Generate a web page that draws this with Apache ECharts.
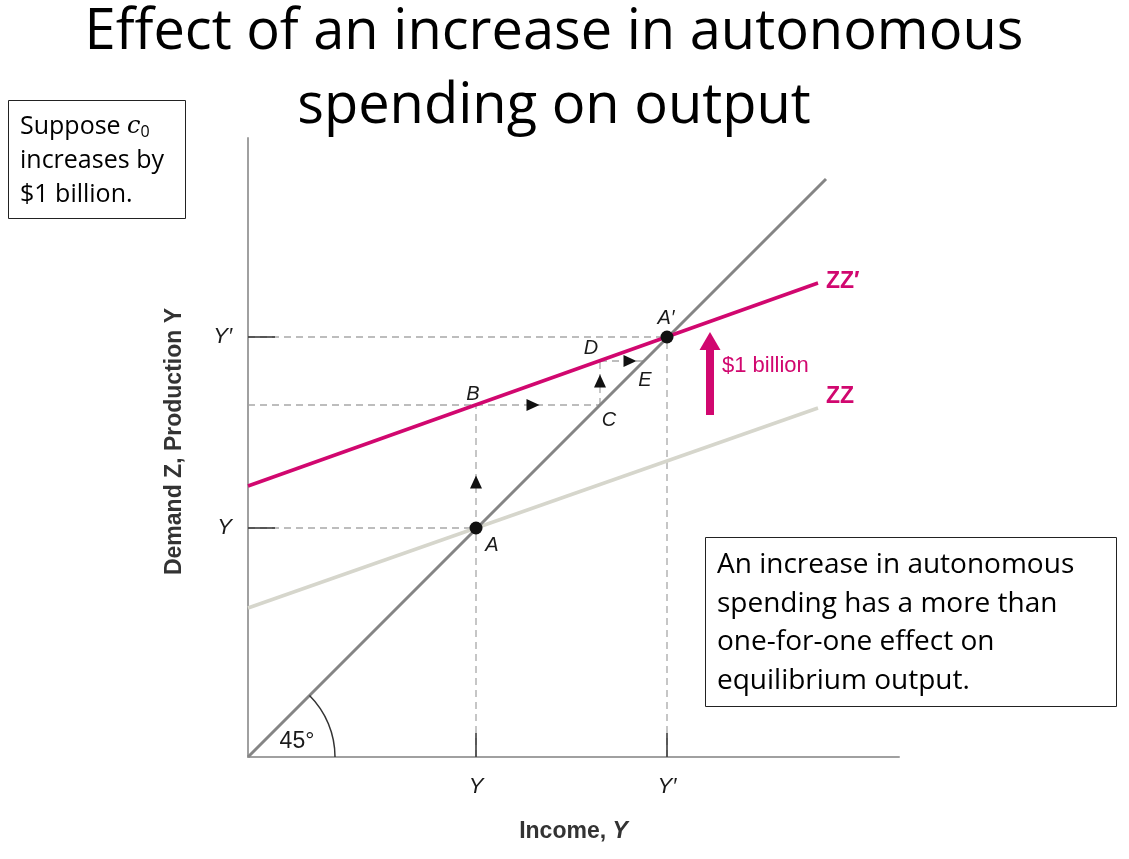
<!DOCTYPE html>
<html><head><meta charset="utf-8">
<script src="https://cdn.jsdelivr.net/npm/echarts@6/dist/echarts.min.js"></script>
<style>html,body{margin:0;padding:0;background:#fff}#c{width:1129px;height:859px}</style>
</head><body><div id="c"></div><script>
// ---- data (income / demand units) ----
const incomeTicks = [22.8, 41.9];
const demandTicks = [22.9, 42.0];
const tickLabels = ['Y', 'Y\u2032'];
const line45 = [[0, 0], [57.8, 57.8]];
const zz = [[0, 14.9], [57.0, 34.9]];
const zzPrime = [[0, 27.1], [57.0, 47.4]];
const equilibria = [[22.8, 22.9], [41.9, 42.0]];
const guides = [
  [[0, 22.9], [22.8, 22.9]],
  [[0, 42.0], [41.9, 42.0]],
  [[22.8, 0], [22.8, 35.2]],
  [[41.9, 0], [41.9, 42.0]],
  [[0, 35.2], [35.2, 35.2]],
  [[35.2, 35.2], [35.2, 39.6]],
  [[35.2, 39.6], [39.6, 39.6]]
];
const upArrows = [[22.8, 27.5], [35.2, 37.6]];
const rightArrows = [[28.5, 35.2], [38.2, 39.6]];
const shiftShaft = [[46.2, 34.2], [46.2, 40.9]];
const shiftHead = [[46.2, 41.6]];
const pointLabels = [
  {value: [24.4, 21.2], name: 'A'},
  {value: [41.8, 43.9], name: 'A\u2032'},
  {value: [22.5, 36.3], name: 'B'},
  {value: [36.1, 33.7], name: 'C'},
  {value: [34.3, 40.9], name: 'D'},
  {value: [39.7, 37.7], name: 'E'}
];

const MAG = '#d1076f';
const chart = echarts.init(document.getElementById('c'), null, {renderer: 'canvas'});

const series = [];
guides.forEach(g => series.push({
  type: 'line', data: g, symbol: 'none', silent: true, z: -1,
  lineStyle: {color: '#a8a8a8', width: 1.3, type: [7, 5]}
}));
series.push({type: 'line', data: zz, symbol: 'none', silent: true, z: 3,
  lineStyle: {color: '#d6d6cc', width: 3.5}});
series.push({type: 'line', data: line45, symbol: 'none', silent: true, z: 4,
  lineStyle: {color: '#858585', width: 3}});
series.push({type: 'line', data: zzPrime, symbol: 'none', silent: true, z: 5,
  lineStyle: {color: MAG, width: 3.5}});
series.push({type: 'line', data: shiftShaft, symbol: 'none', silent: true, z: 5,
  lineStyle: {color: MAG, width: 8, cap: 'butt'}});
series.push({type: 'scatter', data: shiftHead, symbol: 'triangle', symbolSize: [21, 18], silent: true, z: 5,
  itemStyle: {color: MAG, opacity: 1}});
series.push({type: 'scatter', data: equilibria, symbol: 'circle', symbolSize: 13, silent: true, z: 6,
  itemStyle: {color: '#111', opacity: 1}});
series.push({type: 'scatter', data: upArrows, symbol: 'triangle', symbolSize: [12, 13], silent: true, z: 6,
  itemStyle: {color: '#111', opacity: 1}});
series.push({type: 'scatter', data: rightArrows, symbol: 'triangle', symbolRotate: -90, symbolSize: [12, 13], silent: true, z: 6,
  itemStyle: {color: '#111', opacity: 1}});
series.push({type: 'scatter', data: pointLabels, symbolSize: 0, silent: true, z: 7,
  itemStyle: {opacity: 1},
  label: {show: true, position: 'inside', formatter: '{b}', color: '#1a1a1a',
    fontFamily: 'Liberation Sans', fontStyle: 'italic', fontSize: 20}});
series.push({type: 'scatter', data: [{value: [57.8, 47.5], name: 'ZZ\u2032'}, {value: [57.8, 36.0], name: 'ZZ'}],
  symbolSize: 0, silent: true, z: 7, itemStyle: {opacity: 1},
  label: {show: true, position: 'right', distance: 0, formatter: '{b}', color: MAG,
    fontFamily: 'Liberation Sans', fontWeight: 'bold', fontSize: 23}});
series.push({type: 'scatter', data: [{value: [47.4, 39.1], name: '$1 billion'}],
  symbolSize: 0, silent: true, z: 7, itemStyle: {opacity: 1},
  label: {show: true, position: 'right', distance: 0, formatter: '{b}', color: MAG,
    fontFamily: 'Liberation Sans', fontSize: 22}});
series.push({type: 'scatter', data: [{value: [4.9, 1.5], name: '45\u00b0'}],
  symbolSize: 0, silent: true, z: 7, itemStyle: {opacity: 1},
  label: {show: true, position: 'inside', formatter: '{b}', color: '#1a1a1a',
    fontFamily: 'Liberation Sans', fontSize: 23}});

function tickName(v, ticks) {
  let best = 0;
  ticks.forEach((t, i) => { if (Math.abs(t - v) < Math.abs(ticks[best] - v)) best = i; });
  return tickLabels[best];
}

const option = {
  animation: false,
  backgroundColor: '#fff',
  grid: {left: 248, right: 230, top: 138, bottom: 102, containLabel: false},
  xAxis: {
    type: 'value', min: 0, max: 65.1,
    axisLine: {show: true, lineStyle: {color: '#a0a0a0', width: 2}},
    axisTick: {show: true, inside: true, length: 24, customValues: incomeTicks,
      lineStyle: {color: '#333', width: 1.5}},
    axisLabel: {show: true, customValues: incomeTicks, margin: 19,
      formatter: v => tickName(v, incomeTicks),
      fontFamily: 'Liberation Sans', fontStyle: 'italic', fontSize: 22, color: '#1a1a1a'},
    splitLine: {show: false},
    name: 'Income, {i|Y}', nameLocation: 'middle', nameGap: 63,
    nameTextStyle: {fontFamily: 'Liberation Sans', fontWeight: 'bold', fontSize: 23, color: '#333',
      rich: {i: {fontFamily: 'Liberation Sans', fontWeight: 'bold', fontStyle: 'italic', fontSize: 23, color: '#333'}}}
  },
  yAxis: {
    type: 'value', min: 0, max: 61.9,
    axisLine: {show: true, lineStyle: {color: '#a0a0a0', width: 2}},
    axisTick: {show: true, inside: true, length: 27, customValues: demandTicks,
      lineStyle: {color: '#333', width: 1.5}},
    axisLabel: {show: true, customValues: demandTicks, margin: 16,
      formatter: v => tickName(v, demandTicks),
      fontFamily: 'Liberation Sans', fontStyle: 'italic', fontSize: 22, color: '#1a1a1a'},
    splitLine: {show: false},
    name: 'Demand Z, Production Y', nameLocation: 'middle', nameGap: 62,
    nameTextStyle: {fontFamily: 'Liberation Sans', fontWeight: 'bold', fontSize: 23, color: '#333',
      padding: [0, 0, 0, 12]}
  },
  series: series,
  graphic: [
    {type: 'text', x: 554, y: 5, z: 10,
      style: {text: 'Effect of an increase in autonomous', font: '56px "Open Sans"', fill: '#000', align: 'center'}},
    {type: 'text', x: 554, y: 79, z: 10,
      style: {text: 'spending on output', font: '56px "Open Sans"', fill: '#000', align: 'center'}},
    {type: 'rect', shape: {x: 8.5, y: 100.5, width: 177, height: 118}, z: 10,
      style: {fill: '#fff', stroke: '#222', lineWidth: 1}},
    {type: 'text', x: 20, y: 110, z: 11,
      style: {text: 'Suppose {c|c}{s|0}\nincreases by\n$1 billion.', font: '25px "Open Sans"', fill: '#000', lineHeight: 34,
        rich: {c: {fontFamily: 'DejaVu Serif', fontStyle: 'italic', fontSize: 24, lineHeight: 34},
               s: {fontFamily: 'Open Sans', fontSize: 16, padding: [10, 0, 0, 0], lineHeight: 34}}}},
    {type: 'rect', shape: {x: 705.5, y: 537.5, width: 411, height: 169}, z: 10,
      style: {fill: '#fff', stroke: '#222', lineWidth: 1}},
    {type: 'text', x: 717, y: 546, z: 11,
      style: {text: 'An increase in autonomous\nspending has a more than\none-for-one effect on\nequilibrium output.',
        font: '28px "Open Sans"', fill: '#000', lineHeight: 38.5}}
  ]
};
chart.setOption(option);

const o = chart.convertToPixel({gridIndex: 0}, [0, 0]);
chart.setOption({graphic: option.graphic.concat([
  {type: 'arc', shape: {cx: o[0], cy: o[1], r: 87, startAngle: -Math.PI / 4, endAngle: 0}, z: 9,
    style: {fill: 'none', stroke: '#333', lineWidth: 1.5}}
])});
</script></body></html>
